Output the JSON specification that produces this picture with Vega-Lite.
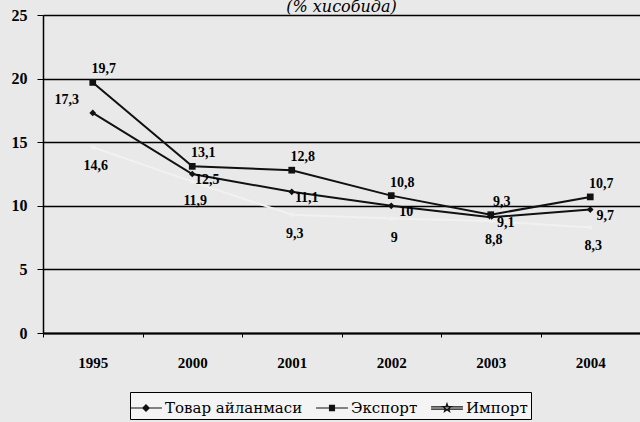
{
  "$schema": "https://vega.github.io/schema/vega-lite/v6.json",
  "autosize": "none",
  "width": 597,
  "height": 318,
  "padding": {"left": 43, "top": 15, "right": 0, "bottom": 89},
  "background": "#e9e9e9",
  "title": {"text": "(% хисобида)", "anchor": "middle", "offset": -8, "font": "DejaVu Serif", "fontStyle": "italic", "fontWeight": "normal", "fontSize": 16, "color": "black"},
  "config": {
    "locale": {"number": {"decimal": ",", "thousands": " ", "grouping": [3], "currency": ["", ""]}},
    "view": {"stroke": null},
    "axis": {"labelFont": "Liberation Serif", "labelFontWeight": "bold", "labelColor": "black", "domainColor": "black", "tickColor": "black"}
  },
  "data": {"values": [
    {"year": "1995", "series": "Товар айланмаси", "value": 17.3},
    {"year": "2000", "series": "Товар айланмаси", "value": 12.5},
    {"year": "2001", "series": "Товар айланмаси", "value": 11.1},
    {"year": "2002", "series": "Товар айланмаси", "value": 10},
    {"year": "2003", "series": "Товар айланмаси", "value": 9.1},
    {"year": "2004", "series": "Товар айланмаси", "value": 9.7},
    {"year": "1995", "series": "Экспорт", "value": 19.7},
    {"year": "2000", "series": "Экспорт", "value": 13.1},
    {"year": "2001", "series": "Экспорт", "value": 12.8},
    {"year": "2002", "series": "Экспорт", "value": 10.8},
    {"year": "2003", "series": "Экспорт", "value": 9.3},
    {"year": "2004", "series": "Экспорт", "value": 10.7},
    {"year": "1995", "series": "Импорт", "value": 14.6},
    {"year": "2000", "series": "Импорт", "value": 11.9},
    {"year": "2001", "series": "Импорт", "value": 9.3},
    {"year": "2002", "series": "Импорт", "value": 9},
    {"year": "2003", "series": "Импорт", "value": 8.8},
    {"year": "2004", "series": "Импорт", "value": 8.3}
  ]},
  "encoding": {
    "x": {"field": "year", "type": "ordinal", "title": null,
      "scale": {"type": "band", "paddingInner": 0, "paddingOuter": 0},
      "axis": {"labelAngle": 0, "labelFontSize": 15, "tickBand": "extent", "tickSize": 4, "labelPadding": 18, "domainWidth": 2}},
    "y": {"field": "value", "type": "quantitative", "title": null,
      "scale": {"domain": [0, 25], "nice": false},
      "axis": {"values": [0, 5, 10, 15, 20, 25], "grid": true, "gridColor": "black", "gridWidth": 1.6, "gridOpacity": 1, "labelFontSize": 16, "tickSize": 6, "labelPadding": 10, "domainWidth": 1.5}}
  },
  "resolve": {"scale": {"shape": "independent"}},
  "layer": [
    {
      "mark": {"type": "line", "strokeWidth": 2},
      "encoding": {
        "color": {"condition": {"test": "datum.series === 'Импорт'", "value": "#f1f1f1"}, "value": "#111111"},
        "detail": {"field": "series"}
      }
    },
    {
      "mark": {"type": "point", "filled": true, "size": 45, "opacity": 1},
      "encoding": {
        "color": {"condition": {"test": "datum.series === 'Импорт'", "value": "#f1f1f1"}, "value": "#111111"},
        "shape": {"field": "series", "type": "nominal", "legend": null,
          "scale": {"domain": ["Товар айланмаси", "Экспорт", "Импорт"], "range": ["diamond", "square", "M0,-1L0.24,-0.33L0.95,-0.31L0.38,0.12L0.59,0.81L0,0.4L-0.59,0.81L-0.38,0.12L-0.95,-0.31L-0.24,-0.33Z"]}}
      }
    },
    {
      "mark": {"type": "point", "filled": false, "size": 10, "opacity": 0},
      "encoding": {
        "shape": {"field": "series", "type": "nominal",
          "scale": {"domain": ["Товар айланмаси", "Экспорт", "Импорт"], "range": [
            "M-1.3,0L1.3,0M0,-0.26L0.26,0L0,0.26L-0.26,0Z",
            "M-1.3,0L1.3,0M-0.2,-0.22L0.2,-0.22L0.2,0.22L-0.2,0.22Z",
            "M-1.3,-0.09L1.3,-0.09M-1.3,0.09L1.3,0.09M0,-0.36L0.08,-0.12L0.34,-0.11L0.14,0.04L0.21,0.29L0,0.15L-0.21,0.29L-0.14,0.04L-0.34,-0.11L-0.08,-0.12Z"]},
          "legend": {"title": null, "orient": "none", "legendX": 87, "legendY": 377, "direction": "horizontal",
            "strokeColor": "black", "fillColor": "#f4f4f4", "padding": 3, "symbolSize": 600, "columnPadding": 10, "labelOffset": 6,
            "labelFont": "DejaVu Serif", "labelFontSize": 15, "labelColor": "black",
            "encoding": {"symbols": {
              "fill": {"value": {"expr": "datum.value === 'Импорт' ? '#ffffff' : '#111111'"}},
              "stroke": {"value": "#111111"},
              "strokeWidth": {"value": 1.2},
              "opacity": {"value": 1}
            }}
          }}
      }
    },
    {
      "transform": [{"filter": "datum.series === 'Экспорт'"}],
      "mark": {"type": "text", "dx": 11, "dy": -13, "font": "Liberation Serif", "fontWeight": "bold", "fontSize": 14, "color": "black"},
      "encoding": {"text": {"field": "value", "type": "quantitative"}}
    },
    {
      "transform": [{"filter": "datum.series === 'Товар айланмаси' && datum.year !== '1995'"}],
      "mark": {"type": "text", "dx": 15, "dy": 6, "font": "Liberation Serif", "fontWeight": "bold", "fontSize": 14, "color": "black"},
      "encoding": {"text": {"field": "value", "type": "quantitative"}}
    },
    {
      "transform": [{"filter": "datum.series === 'Товар айланмаси' && datum.year === '1995'"}],
      "mark": {"type": "text", "dx": -26, "dy": -13, "font": "Liberation Serif", "fontWeight": "bold", "fontSize": 14, "color": "black"},
      "encoding": {"text": {"field": "value", "type": "quantitative"}}
    },
    {
      "transform": [{"filter": "datum.series === 'Импорт'"}],
      "mark": {"type": "text", "dx": 3, "dy": 19, "font": "Liberation Serif", "fontWeight": "bold", "fontSize": 14, "color": "black"},
      "encoding": {"text": {"field": "value", "type": "quantitative"}}
    }
  ]
}
